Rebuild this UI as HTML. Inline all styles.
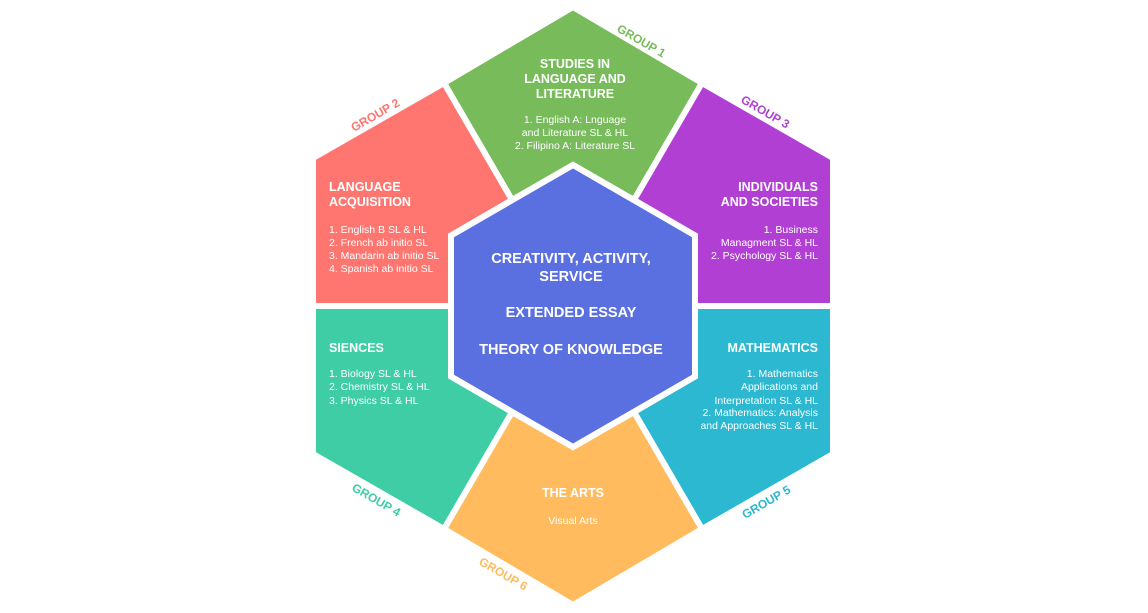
<!DOCTYPE html>
<html><head><meta charset="utf-8"><style>
html,body{margin:0;padding:0;background:#fff;}
svg{display:block;font-family:"Liberation Sans",Arial,sans-serif;}
.t{font-weight:bold;font-size:12.5px;fill:#fff;}
.i{font-size:10.5px;fill:#fff;}
.c{font-weight:bold;font-size:14.5px;fill:#fff;}
.g{font-weight:bold;font-size:12px;}
</style></head><body>
<svg width="1148" height="613" viewBox="0 0 1148 613">
<g stroke="#fff" stroke-width="6" stroke-linejoin="miter">
<polygon fill="#77bb5b" points="444,83 573,7 702,83 634,200 573,165 512,200"/>
<polygon fill="#b23fd3" points="702,83 833,158 833,306 695,306 695,235.5 634,200"/>
<polygon fill="#2bb8d0" points="833,306 833,454 702,529 634,412 695,376.5 695,306"/>
<polygon fill="#ffbb5d" points="702,529 573,605 444,529 512,412 573,447 634,412"/>
<polygon fill="#3ecda5" points="444,529 313,454 313,306 451,306 451,376.5 512,412"/>
<polygon fill="#ff7670" points="313,306 313,158 444,83 512,200 451,235.5 451,306"/>
<polygon fill="#5a6fe0" points="573,165 695,235.5 695,376.5 573,447 451,376.5 451,235.5"/>
</g>
<text class="g" fill="#77bb5b" transform="translate(616,31) rotate(30)">GROUP 1</text>
<text class="g" fill="#ff7670" transform="translate(354,132) rotate(-30)">GROUP 2</text>
<text class="g" fill="#b23fd3" transform="translate(740,102) rotate(30)">GROUP 3</text>
<text class="g" fill="#3ecda5" transform="translate(351,490) rotate(30)">GROUP 4</text>
<text class="g" fill="#2bb8d0" transform="translate(745,519) rotate(-30)">GROUP 5</text>
<text class="g" fill="#ffbb5d" transform="translate(478,564) rotate(30)">GROUP 6</text>
<g text-anchor="middle">
<text class="t" x="575" y="68">STUDIES IN</text>
<text class="t" x="575" y="83">LANGUAGE AND</text>
<text class="t" x="575" y="98">LITERATURE</text>
<text class="i" x="575" y="123">1. English A: Lnguage</text>
<text class="i" x="575" y="136">and Literature SL &amp; HL</text>
<text class="i" x="575" y="149">2. Filipino A: Literature SL</text>
</g>
<text class="t" x="329" y="191">LANGUAGE</text>
<text class="t" x="329" y="206">ACQUISITION</text>
<text class="i" x="329" y="233">1. English B SL &amp; HL</text>
<text class="i" x="329" y="246">2. French ab initio SL</text>
<text class="i" x="329" y="259">3. Mandarin ab initio SL</text>
<text class="i" x="329" y="272">4. Spanish ab initio SL</text>
<g text-anchor="end">
<text class="t" x="818" y="191">INDIVIDUALS</text>
<text class="t" x="818" y="206">AND SOCIETIES</text>
<text class="i" x="818" y="233">1. Business</text>
<text class="i" x="818" y="246">Managment SL &amp; HL</text>
<text class="i" x="818" y="259">2. Psychology SL &amp; HL</text>
</g>
<text class="t" x="329" y="352">SIENCES</text>
<text class="i" x="329" y="377">1. Biology SL &amp; HL</text>
<text class="i" x="329" y="390">2. Chemistry SL &amp; HL</text>
<text class="i" x="329" y="404">3. Physics SL &amp; HL</text>
<g text-anchor="end">
<text class="t" x="818" y="352">MATHEMATICS</text>
<text class="i" x="818" y="377">1. Mathematics</text>
<text class="i" x="818" y="390">Applications and</text>
<text class="i" x="818" y="404">Interpretation SL &amp; HL</text>
<text class="i" x="818" y="416">2. Mathematics: Analysis</text>
<text class="i" x="818" y="429">and Approaches SL &amp; HL</text>
</g>
<g text-anchor="middle">
<text class="t" x="573" y="497">THE ARTS</text>
<text class="i" x="573" y="524">Visual Arts</text>
<text class="c" x="571" y="263">CREATIVITY, ACTIVITY,</text>
<text class="c" x="571" y="281">SERVICE</text>
<text class="c" x="571" y="317">EXTENDED ESSAY</text>
<text class="c" x="571" y="354">THEORY OF KNOWLEDGE</text>
</g>
</svg>
</body></html>
